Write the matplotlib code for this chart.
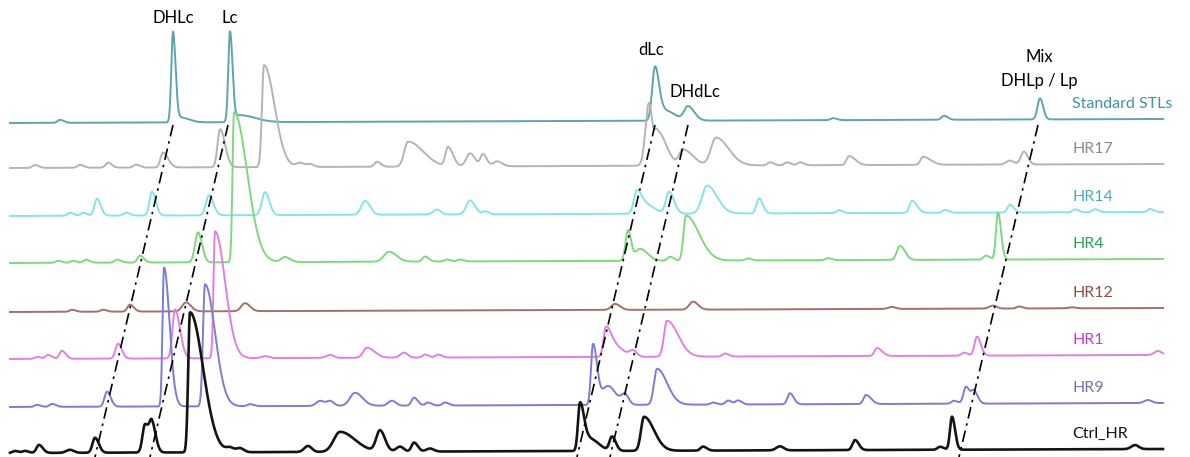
import numpy as np
from matplotlib import pyplot as plt

# пики хроматограмм: (время удерживания, высота, сигма слева, сигма справа)
std_peaks = [(60, 3, 2, 3), (173, 90, 1.7, 2.5), (180, 5, 3, 7), (230, 90, 1.7, 2.5),
             (240, 7, 4, 12), (655, 53, 2.8, 4), (665, 10, 4, 8), (688, 14, 3, 5),
             (833, 2, 2, 3), (944, 4, 2, 3), (1040, 21, 2, 2.5)]
hr17_peaks = [(35, 3, 2, 3), (80, 3, 2, 3), (108, 5, 2, 3), (136, 3, 2, 3), (163, 15, 2, 4),
              (220, 38, 2.5, 5), (264, 102, 2, 10.5), (300, 4, 3, 3), (310, 3, 3, 3),
              (377, 5, 2, 3), (408, 25, 3, 12), (448, 19, 2, 4), (470, 13, 3, 4),
              (483, 12, 2, 3), (497, 5, 3, 4), (649, 62, 3.5, 3), (657, 35, 3, 9),
              (683, 16, 3, 8), (716, 28, 4, 10), (770, 3, 2, 3), (787, 3, 2, 3),
              (800, 3, 2, 3), (849, 9, 2, 5), (923, 8, 2, 6), (1010, 4, 3, 3),
              (1024, 13, 2.5, 3)]
hr14_peaks = [(70, 3, 2, 3), (83, 3, 2, 3), (97, 17, 2, 3), (126, 3, 2, 3), (152, 24, 2, 3),
              (209, 20, 2.5, 3.5), (265, 23, 2.5, 3.5), (365, 14, 3, 4), (437, 5, 3, 3),
              (470, 14, 3, 4), (485, 3, 2, 3), (637, 23, 2.5, 4), (648, 8, 4, 6),
              (669, 22, 2.5, 4), (707, 28, 4, 8), (759, 15, 2, 3), (839, 3, 2, 3),
              (912, 12, 2, 4), (945, 3, 2, 3), (1010, 8, 2, 3), (1075, 3, 2, 3),
              (1095, 3, 2, 3), (1150, 3, 2, 3)]
hr4_peaks = [(58, 2, 2, 3), (73, 2, 2, 3), (86, 3, 2, 3), (117, 3, 2, 3), (140, 7, 2, 3),
             (198, 30, 3, 4), (234, 150, 1.5, 13), (285, 5, 3, 4), (389, 10, 4, 6),
             (425, 5, 2, 3), (447, 2, 2, 3), (460, 2, 2, 3), (628, 30, 2.5, 3),
             (640, 12, 4, 6), (670, 4, 2, 3), (686, 45, 2.5, 13), (748, 2, 2, 3),
             (828, 2, 2, 3), (900, 14, 2.5, 4), (986, 4, 2, 3), (998, 47, 2, 3)]
hr12_peaks = [(72, 2, 2, 3), (103, 2, 2, 3), (130, 7, 2, 3), (186, 9, 3, 4), (245, 8, 3, 4),
              (615, 6, 3, 4), (693, 8, 3, 4), (892, 2, 3, 3), (993, 3, 3, 3),
              (1019, 2, 2, 3), (1072, 1, 3, 3)]
hr1_peaks = [(37, 2, 2, 3), (48, 4, 2, 3), (62, 8, 2, 3), (118, 15, 2, 3), (175, 49, 2.5, 5),
             (215, 127, 1.5, 10), (265, 2, 3, 3), (330, 3, 3, 3), (367, 10, 3, 6),
             (404, 5, 3, 3), (425, 3, 2, 3), (438, 3, 2, 3), (606, 29, 2, 4),
             (616, 10, 4, 6), (633, 6, 3, 3), (667, 36, 3, 11), (725, 3, 2, 3),
             (877, 8, 2, 4), (964, 3, 2, 3), (977, 19, 2, 3), (1158, 4, 3, 3)]
hr9_peaks = [(37, 2, 2, 3), (52, 3, 2, 3), (107, 15, 2, 3), (164, 139, 1.5, 5.5),
             (205, 122, 2, 10), (250, 2, 2, 3), (320, 5, 3, 3), (330, 5, 3, 3),
             (355, 13, 4, 6), (392, 5, 3, 3), (414, 8, 2, 3), (428, 3, 2, 3),
             (445, 3, 2, 3), (593, 60, 2, 4), (608, 19, 5, 6), (625, 10, 3, 3),
             (657, 36, 3, 10), (713, 2, 2, 3), (728, 4, 2, 3), (738, 4, 2, 3),
             (790, 11, 2, 3), (866, 9, 2, 4), (954, 3, 2, 3), (966, 17, 2, 3),
             (974, 12, 2, 3), (1148, 3, 3, 3)]
ctrl_peaks = [(15, 2, 2, 3), (25, 2, 2, 3), (39, 8, 2, 3), (70, 3, 3, 3), (95, 15, 2, 3),
              (145, 28, 2, 3), (152, 28, 2, 3), (190, 140, 1.8, 13), (230, 4, 3, 3),
              (240, 4, 3, 3), (308, 6, 3, 3), (340, 20, 5, 12), (380, 21, 3, 4),
              (400, 5, 3, 3), (414, 9, 2, 3), (430, 3, 3, 3), (580, 47, 2, 4),
              (590, 12, 4, 7), (612, 14, 2, 3), (644, 34, 3, 10), (703, 4, 2, 3),
              (780, 4, 3, 3), (855, 10, 2, 3), (940, 3, 2, 3), (952, 33, 2, 3),
              (1135, 4, 3, 3)]

names = ["Standard STLs", "HR17", "HR14", "HR4", "HR12", "HR1", "HR9", "Ctrl_HR"]
peaks = [std_peaks, hr17_peaks, hr14_peaks, hr4_peaks, hr12_peaks, hr1_peaks, hr9_peaks, ctrl_peaks]
line_colors = ["#5fa5aa", "#b4b4b4", "#86e4e8", "#7fd87f", "#a3706b", "#e27fe2", "#7c7cd4", "#141414"]
text_colors = ["#3f93a3", "#8a8a8a", "#4ea9ba", "#2e9c5c", "#8c4d49", "#c23ec2", "#7a70a8", "#111111"]

# подписи соединений: (время у стандарта, время у контроля)
guides = [(173, 95), (228, 150), (655, 577), (688, 610), (1038, 959)]

# смещения хроматограмм по вертикали
offsets = [334, 289, 241, 194, 145, 98, 50, 4]
tilt = 4


def trace(x, plist):
    y = np.zeros_like(x)
    for c, h, sl, sr in plist:
        k = 1.25 if h < 30 else 1.0        # мелкие пики чуть шире
        s = np.where(x < c, sl, sr) * k
        y += h * np.exp(-0.5 * ((x - c) / s) ** 2)
    return y


fig = plt.figure(figsize=(11.9, 4.57), dpi=100)
ax = fig.add_axes([0, 0, 1, 1])
ax.set_xlim(0, 1190)
ax.set_ylim(0, 457)
ax.axis("off")

x = np.linspace(10, 1163, 5000)
for i, (name, plist) in enumerate(zip(names, peaks)):
    base = offsets[i] + tilt * (x - 10) / 1153
    lw = 1.9 if name == "Ctrl_HR" else 1.4
    ax.plot(x, base + trace(x, plist), color=line_colors[i], lw=lw, zorder=3,
            solid_joinstyle="round")
    ax.text(1072, offsets[i] + tilt + 15, name, color=text_colors[i],
            fontsize=11.5, family="Lato", va="center", ha="left")

# штрихпунктирные линии от стандарта к контролю
top = offsets[0] - 2
bottom = offsets[-1] - 4
for t_top, t_bot in guides:
    ax.plot([t_top, t_bot], [top, bottom], color="black", lw=1.2,
            linestyle=(0, (7, 3, 1.5, 3)), zorder=4)

ax.text(173, 439, "DHLc", fontsize=12, family="Lato", ha="center", va="center")
ax.text(230, 439, "Lc", fontsize=12, family="Lato", ha="center", va="center")
ax.text(651, 407, "dLc", fontsize=12, family="Lato", ha="center", va="center")
ax.text(695, 365, "DHdLc", fontsize=12, family="Lato", ha="center", va="center")
ax.text(1039, 400, "Mix", fontsize=12, family="Lato", ha="center", va="center")
ax.text(1039, 376, "DHLp / Lp", fontsize=12, family="Lato", ha="center", va="center")

plt.savefig("out.png")
